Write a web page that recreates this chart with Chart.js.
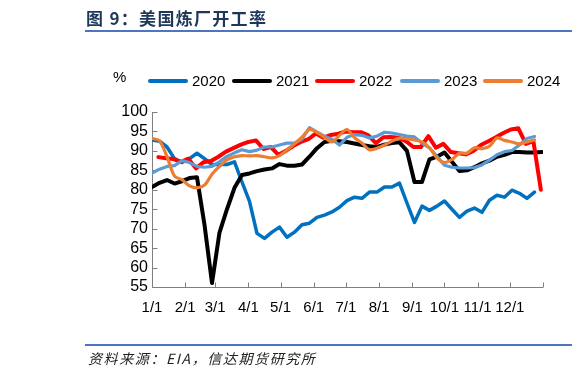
<!DOCTYPE html>
<html>
<head>
<meta charset="utf-8">
<script src="https://cdn.jsdelivr.net/npm/chart.js@4.4.1/dist/chart.umd.min.js"></script>
<style>
  html, body { margin:0; padding:0; background:#fff; }
  #wrap { position:relative; width:577px; height:376px; overflow:hidden; font-family:"Liberation Sans", Arial, sans-serif; }
  canvas { position:absolute; left:0; top:0; }
  .title { position:absolute; left:86px; top:7px; font-family:"Noto Sans CJK SC", sans-serif; font-weight:bold; font-size:17px; letter-spacing:1.3px; color:#1f3759; line-height:22px; white-space:nowrap; }
  .rule { position:absolute; left:85px; width:487px; height:2px; background:#4f75c2; }
  .src { position:absolute; left:88px; top:348px; font-family:"Noto Sans CJK SC", sans-serif; font-style:italic; font-size:14px; letter-spacing:1.6px; color:#222; line-height:20px; white-space:nowrap; }
  .unit { position:absolute; left:113px; top:68px; font-size:15px; line-height:18px; color:#000; }
  .lg { position:absolute; top:72px; height:18px; }
  .lg .ln { position:absolute; left:0; top:7px; width:40px; height:4px; border-radius:2px; }
  .lg .tx { position:absolute; left:44px; top:0; font-size:15px; line-height:18px; color:#000; }
</style>
</head>
<body>
<div id="wrap">
  <canvas id="c" width="577" height="376"></canvas>
  <div class="title">图 9：美国炼厂开工率</div>
  <div class="rule" style="top:30px"></div>
  <div class="unit">%</div>
  <div id="legend"></div>
  <div class="rule" style="top:344px"></div>
  <div class="src">资料来源：EIA，信达期货研究所</div>
</div>
<script>
// ---- data ----
const monthLabels = ['1/1','2/1','3/1','4/1','5/1','6/1','7/1','8/1','9/1','10/1','11/1','12/1',''];
const monthStartDays = [0,31,59,90,120,151,181,212,243,273,304,334,365];
const seriesNames = ['2020','2021','2022','2023','2024'];
const seriesColors = ['#0070C0','#000000','#FF0000','#5B9BD5','#ED7D31'];
const seriesStartDay = [0,0,6,0,0];

const y2020 = [92.8,92.5,91,88,87,88,89.4,88,86.5,86.5,86.5,87.2,82,77,68.8,67.5,69.1,70.4,67.8,69.1,71,71.4,72.9,73.5,74.3,75.5,77.2,78.1,77.8,79.4,79.4,80.7,80.7,81.7,76.6,71.6,75.8,74.7,75.8,77.1,75,72.9,74.5,75.3,74.2,77.3,78.6,78.1,79.9,79.1,77.8,79.4];
const y2021 = [80.7,81.8,82.5,81.6,82.2,83,83.2,71,56,69,75,80.5,83.8,84.2,84.8,85.2,85.5,86.6,86.2,86.2,86.5,88.5,90.7,92.3,92.6,92.5,92.3,91.9,91.5,91.2,91,91.6,92,92.2,90,82,82,87.8,88.5,89.6,87.2,84.8,85,85.8,86.8,87.5,88.5,89,89.7,89.7,89.6,89.6,89.7];
const y2022 = [88.4,88.1,87.9,87.2,88,85.5,87.1,87.4,88.5,89.8,90.7,91.6,92.3,92.7,90.5,91,89,90,91.3,92.3,93,94.5,93.4,94.1,94.4,95,94.8,94.8,94,92,93.5,93.6,93.4,92.5,91,91,93.8,90.8,91.8,89.7,89.4,89.1,90,91.5,92.5,93.5,94.6,95.5,95.8,91.8,92.5,80];
const y2023 = [84.3,85.3,86,86.2,87.5,87,86,85.8,86,87.2,88.6,89.5,90.3,89.8,90.2,91,91,91.5,92,92,93,96,94.8,93.8,93,91.5,93.5,94.2,94,93.3,93.8,94.8,94.6,94.2,93.8,93.6,92,90.8,88.6,86.3,85.8,85.6,85.6,85.7,86.4,87.6,89,89.8,90.1,91.5,93.2,93.7];
const y2024 = [93.2,92.6,88.5,83.5,82.6,81,80.5,81.2,84,86,87.7,88.5,88.8,88.7,88.8,88.5,88.2,88.8,90.2,91.8,93.5,95.5,94.8,93.5,92.3,94,95.5,93.4,92,90.3,90.7,91.5,92.5,93.3,93.1,92.8,92.3,90.8,88.2,87,87.8,89.4,89.4,90.8,90.6,91.2,93.3,92.7,92.3,91.8,92.3,92.8];
const yTicks = [55,60,65,70,75,80,85,90,95,100];

const allValues = [y2020,y2021,y2022,y2023,y2024];
const lineWidths = [3.5,4,4,3.2,3.2];
const tensions = [0,0,0,0,0.3];

// legend (HTML)
const lgLeft = [148,232,315,400,483];
const lg = document.getElementById('legend');
seriesNames.forEach((n,i)=>{
  const d = document.createElement('div');
  d.className='lg'; d.style.left = lgLeft[i]+'px';
  d.innerHTML = '<div class="ln" style="background:'+seriesColors[i]+'"></div><div class="tx">'+n+'</div>';
  lg.appendChild(d);
});

const datasets = allValues.map((vals,i)=>({
  label: seriesNames[i],
  data: vals.map((v,k)=>({x: seriesStartDay[i] + 7*k, y: v})),
  borderColor: seriesColors[i],
  backgroundColor: seriesColors[i],
  borderWidth: lineWidths[i],
  pointRadius: 0,
  tension: tensions[i],
  borderJoinStyle: 'round',
  borderCapStyle: 'round',
  fill: false,
  order: 4 - i
}));

const axisPlugin = {
  id: 'axisPlugin',
  beforeDatasetsDraw(chart){
    const ctx = chart.ctx, a = chart.chartArea, xs = chart.scales.x, ys = chart.scales.y;
    ctx.save();
    ctx.strokeStyle = '#7f7f7f';
    ctx.lineWidth = 1;
    const L = Math.round(a.left)+0.5, B = Math.round(a.bottom)+0.5;
    ctx.beginPath();
    ctx.moveTo(L, Math.round(a.top)); ctx.lineTo(L, B);
    ctx.lineTo(Math.round(a.right), B);
    yTicks.forEach(v=>{
      const y = Math.round(ys.getPixelForValue(v))+0.5;
      ctx.moveTo(L, y); ctx.lineTo(L+5, y);
    });
    monthStartDays.forEach(d=>{
      const x = Math.round(xs.getPixelForValue(d))+0.5;
      ctx.moveTo(x, B); ctx.lineTo(x, B-5);
    });
    ctx.stroke();
    ctx.restore();
  }
};

new Chart(document.getElementById('c'), {
  type: 'line',
  data: { datasets },
  options: {
    responsive: false,
    animation: false,
    devicePixelRatio: 1,
    layout: { padding: { top: 112, right: 34, left: 0, bottom: 0 } },
    plugins: { legend: { display: false }, tooltip: { enabled: false }, title: { display:false } },
    scales: {
      x: {
        type: 'linear', min: 0, max: 365,
        grid: { display: false, drawTicks: false },
        border: { display: false },
        afterBuildTicks(s){ s.ticks = monthStartDays.map(v=>({value:v})); },
        afterFit(s){ s.height = 89; },
        ticks: {
          autoSkip: false, maxRotation: 0, minRotation: 0, padding: 12,
          color: '#000', font: { family: '"Liberation Sans", Arial, sans-serif', size: 15 },
          callback(v){ const k = monthStartDays.indexOf(v); return k>=0 ? monthLabels[k] : ''; }
        }
      },
      y: {
        min: 55, max: 100,
        grid: { display: false, drawTicks: false },
        border: { display: false },
        afterBuildTicks(s){ s.ticks = yTicks.map(v=>({value:v})); },
        afterFit(s){ s.width = 152; },
        ticks: {
          autoSkip: false, padding: 4, color: '#000',
          font: { family: '"Liberation Sans", Arial, sans-serif', size: 16 }
        }
      }
    }
  },
  plugins: [axisPlugin]
});
</script>
</body>
</html>
